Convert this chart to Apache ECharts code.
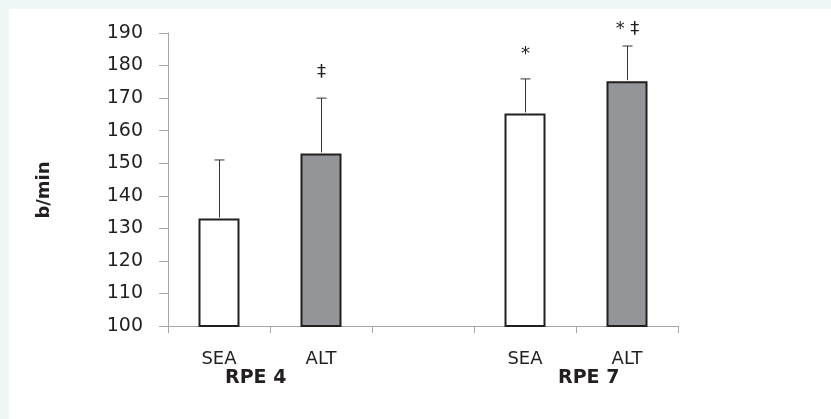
<!DOCTYPE html>
<html>
<head>
<meta charset="utf-8">
<script src="https://cdn.jsdelivr.net/npm/echarts@6/dist/echarts.min.js"></script>
<style>
  html, body { margin: 0; padding: 0; background: #eef6f6; }
  #chart { position: absolute; left: 9px; top: 9px; width: 822px; height: 410px; background: #ffffff; }
</style>
</head>
<body>
<div id="chart"></div>
<script>
// 데이터
const categories = ['SEA', 'ALT', '', 'SEA', 'ALT'];
const heartRate = [133, 153, null, 165.3, 175.2];
const errUp = [18, 17, null, 10.6, 10.8];
const marks = ['', '‡', '', '*', '* ‡'];
const markAt = [null, 177.8, null, 183.3, 191];   // 표시 기호의 높이 (b/min)
const groupLabels = ['RPE 4', 'RPE 7'];
const yTicks = [100, 190, 10];

const FILL = { SEA: '#ffffff', ALT: '#939598' };
const INK = '#231f20';
const FONT = '"DejaVu Sans"';

const chartDom = document.getElementById('chart');
const myChart = echarts.init(chartDom);

const barData = heartRate.map((v, i) => v == null ? '-' : {
    value: v,
    itemStyle: { color: FILL[categories[i]], borderColor: INK, borderWidth: 2 }
});
const errData = heartRate.map((v, i) => v == null ? null : [i, v, v + errUp[i], marks[i], markAt[i]]).filter(d => d);

const option = {
    animation: false,
    textStyle: { fontFamily: 'DejaVu Sans' },
    grid: { left: 159, right: 153, top: 24, bottom: 93 },
    xAxis: {
        type: 'category',
        data: categories,
        axisLine: { lineStyle: { color: '#a6a6a6', width: 1 } },
        axisTick: { show: true, length: 7, lineStyle: { color: '#a6a6a6' } },
        axisLabel: { color: INK, fontSize: 18, margin: 24 }
    },
    yAxis: {
        type: 'value',
        min: yTicks[0],
        max: yTicks[1],
        interval: yTicks[2],
        splitLine: { show: false },
        axisLine: { show: true, lineStyle: { color: '#a6a6a6', width: 1 } },
        axisTick: { show: true, length: 9, lineStyle: { color: '#a6a6a6' } },
        axisLabel: { color: INK, fontSize: 19, margin: 25 }
    },
    graphic: [
        { type: 'text', x: 35, y: 181, rotation: Math.PI / 2, style: { text: 'b/min', font: 'bold 18px ' + FONT, fill: INK, align: 'center', verticalAlign: 'middle' } },
        { type: 'text', left: 216, top: 360, style: { text: groupLabels[0], font: 'bold 19px ' + FONT, fill: INK } },
        { type: 'text', left: 549, top: 360, style: { text: groupLabels[1], font: 'bold 19px ' + FONT, fill: INK } }
    ],
    series: [
        {
            type: 'bar',
            data: barData,
            barWidth: 41,
            z: 2
        },
        {
            type: 'custom',
            z: 3,
            data: errData,
            renderItem: function (params, api) {
                const base = api.coord([api.value(0), api.value(1)]);
                const top = api.coord([api.value(0), api.value(2)]);
                const mark = api.coord([api.value(0), api.value(4)]);
                const x = Math.round(base[0]) + 0.5;
                return {
                    type: 'group',
                    children: [
                        { type: 'line', shape: { x1: x, y1: base[1] - 1, x2: x, y2: top[1] }, style: { stroke: '#333333', lineWidth: 1 } },
                        { type: 'line', shape: { x1: x - 5, y1: top[1], x2: x + 5, y2: top[1] }, style: { stroke: '#333333', lineWidth: 1 } },
                        { type: 'text', x: x, y: mark[1], style: { text: api.value(3), font: '18px ' + FONT, fill: INK, align: 'center', verticalAlign: 'middle' } }
                    ]
                };
            }
        }
    ]
};

myChart.setOption(option);
</script>
</body>
</html>
